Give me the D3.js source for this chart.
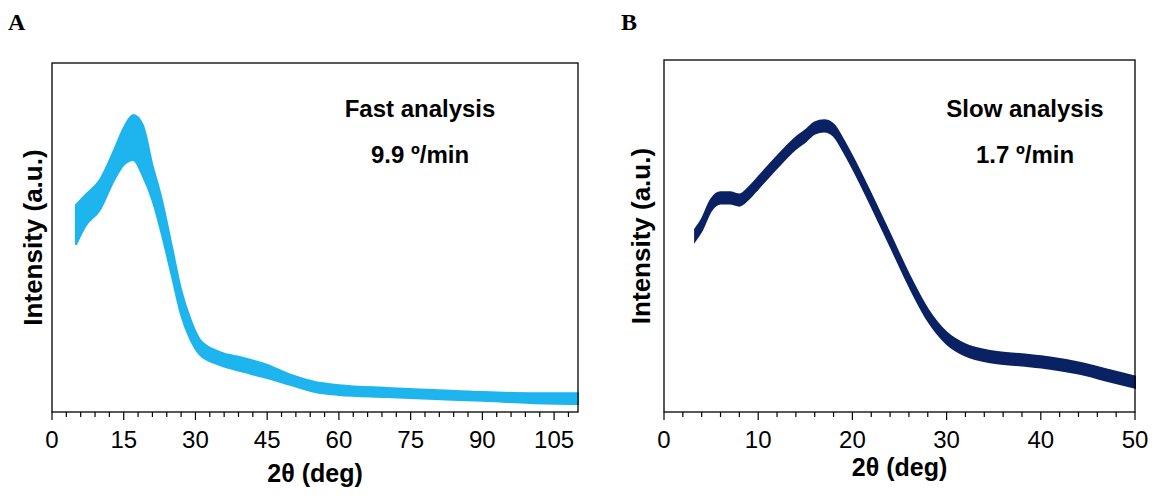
<!DOCTYPE html>
<html><head><meta charset="utf-8">
<script src="https://cdn.jsdelivr.net/npm/d3@7"></script>
<style>body{margin:0;background:#fff}svg{font-family:"Liberation Sans",Arial,sans-serif}</style>
</head><body>
<script>
// panel A: fast analysis, upper / lower edge of noisy trace
var angleA = [5,7,10,13,15,17,19,21,23,25,27,29,31,35,40,45,50,55,60,70,80,90,100,110];
var upperA = [59.3,62.2,66.5,75.1,81.4,85.1,82.2,70.8,60.7,47.9,35.0,26.4,20.6,17.2,15.5,13.5,10.6,8.6,7.7,6.9,6.3,5.7,5.4,5.4];
var lowerA = [47.9,53.3,57.9,66.5,70.8,72.2,67.6,60.7,50.7,39.3,27.8,20.6,16.3,13.5,11.5,9.7,7.7,5.7,4.9,4.3,3.7,3.2,2.6,2.3];
// panel B: slow analysis, trace centre and noise half-width
var angleB = [3.3,4,5,6,7,8,9,10,12,14,15,16,17,18,19,20,22,24,26,28,30,32,35,38,41,44,47,50];
var centreB = [50.3,53.1,58.8,60.8,60.8,60.2,62.2,65.1,71.0,76.4,78.4,80.7,81.3,80.1,75.9,71.0,60.2,48.9,37.5,27.6,21.0,17.6,15.6,14.8,13.9,12.5,10.5,8.5];
var halfB = 1.6;
var ticksA = [0,15,30,45,60,75,90,105];
var ticksB = [0,10,20,30,40,50];

var svg = d3.select("body").append("svg").attr("width",1155).attr("height",499);

function panel(o){
  var x = d3.scaleLinear().domain([0,o.xmax]).range([o.left,o.right]);
  var y = d3.scaleLinear().domain([0,100]).range([412,o.top]);
  var g = svg.append("g");
  var area = d3.area().x(function(d){return x(d.a);}).y0(function(d){return y(d.lo);}).y1(function(d){return y(d.hi);}).curve(d3.curveMonotoneX);
  g.append("path").datum(o.data).attr("d",area).attr("fill",o.color).attr("stroke",o.color).attr("stroke-width",2);
  g.append("rect").attr("x",o.left).attr("y",o.top).attr("width",o.right-o.left).attr("height",412-o.top)
    .attr("fill","none").attr("stroke","#000").attr("stroke-width",1.3);
  var minor = d3.range(0,o.xmax+0.001,o.minor);
  g.selectAll(".mt").data(minor).enter().append("line")
    .attr("x1",function(d){return x(d);}).attr("x2",function(d){return x(d);})
    .attr("y1",412).attr("y2",function(d){return o.ticks.indexOf(d)>=0?420:417;})
    .attr("stroke","#000").attr("stroke-width",1.2);
  g.selectAll(".tl").data(o.ticks).enter().append("text")
    .attr("x",function(d){return x(d);}).attr("y",448).attr("text-anchor","middle")
    .attr("font-size",24).text(function(d){return d;});
  g.append("text").attr("x",(o.left+o.right)/2).attr("y",o.xlabY).attr("text-anchor","middle")
    .attr("font-size",25).attr("font-weight","bold").text("2θ (deg)");
  g.append("text").attr("transform","translate("+o.ylabX+","+((o.top+412)/2)+") rotate(-90)")
    .attr("text-anchor","middle").attr("font-size",26).attr("font-weight","bold").text("Intensity (a.u.)");
  g.append("text").attr("x",o.annX).attr("y",117).attr("text-anchor","middle").attr("font-size",24).attr("font-weight","bold").text(o.t1);
  g.append("text").attr("x",o.annX).attr("y",163).attr("text-anchor","middle").attr("font-size",24).attr("font-weight","bold").text(o.t2);
  g.append("text").attr("x",o.letterX).attr("y",30).attr("font-family","Liberation Serif").attr("font-size",24)
    .attr("font-weight","bold").text(o.letter);
}

panel({left:52,right:578,top:63,xmax:110,minor:3,ticks:ticksA,color:"#1eb4ee",
  data:angleA.map(function(a,i){return {a:a,hi:upperA[i],lo:lowerA[i]};}),
  xlabY:482,ylabX:42,annX:420,t1:"Fast analysis",t2:"9.9 º/min",letter:"A",letterX:8});
panel({left:664,right:1135,top:60,xmax:50,minor:2,ticks:ticksB,color:"#0a2263",
  data:angleB.map(function(a,i){return {a:a,hi:centreB[i]+halfB,lo:centreB[i]-halfB};}),
  xlabY:476,ylabX:650,annX:1025,t1:"Slow analysis",t2:"1.7 º/min",letter:"B",letterX:621});
</script>
</body></html>
